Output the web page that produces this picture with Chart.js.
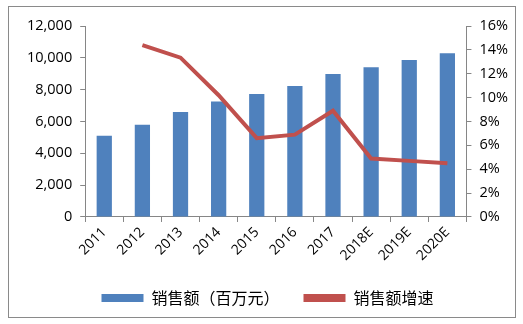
<!DOCTYPE html>
<html>
<head>
<meta charset="utf-8">
<script src="https://cdn.jsdelivr.net/npm/chart.js@4/dist/chart.umd.min.js"></script>
<style>
  body { margin: 0; background: #fff; }
  #box { position: absolute; left: 8px; top: 6px; width: 506px; height: 310px; border: 1px solid #8a8a8a; }
</style>
</head>
<body>
<div id="box"><canvas id="grafico" width="506" height="310"></canvas></div>
<script>
const anos = ["2011", "2012", "2013", "2014", "2015", "2016", "2017", "2018E", "2019E", "2020E"];
const vendas = [5100, 5800, 6600, 7250, 7720, 8230, 8990, 9410, 9860, 10290];
const crescimento = [null, 14.4, 13.35, 10.2, 6.6, 6.9, 8.9, 4.9, 4.7, 4.5];
const ticksVendas = [0, 2000, 4000, 6000, 8000, 10000, 12000];

const fonteTicks = { family: "'Open Sans', 'Liberation Sans', sans-serif", size: 14.5 };

const config = {
  type: "bar",
  data: {
    labels: anos,
    datasets: [
      {
        label: "销售额（百万元）",
        data: vendas,
        backgroundColor: "#4F81BD",
        barPercentage: 0.4,
        categoryPercentage: 1,
        yAxisID: "y",
        order: 2,
      },
      {
        label: "销售额增速",
        data: crescimento,
        type: "line",
        borderColor: "#C0504D",
        backgroundColor: "#C0504D",
        borderWidth: 4,
        pointRadius: 0,
        tension: 0,
        yAxisID: "y2",
        order: 1,
      },
    ],
  },
  options: {
    responsive: false,
    animation: false,
    layout: { padding: { left: 10, right: -1, top: 19, bottom: 1 } },
    plugins: {
      tooltip: { enabled: false },
      legend: {
        position: "bottom",
        labels: {
          color: "#000",
          font: { family: "'Noto Sans CJK SC', sans-serif", size: 16 },
          boxWidth: 42,
          boxHeight: 8,
          padding: 24,
          generateLabels: function (chart) {
            return chart.data.datasets.map((ds, i) => ({
              text: ds.label,
              fillStyle: ds.backgroundColor,
              strokeStyle: ds.backgroundColor,
              lineWidth: 0,
              datasetIndex: i,
              hidden: false,
            }));
          },
        },
      },
    },
    scales: {
      x: {
        grid: { drawOnChartArea: false, drawTicks: true, tickLength: 5, color: "#868686", offset: true },
        border: { display: true, color: "#868686" },
        ticks: { color: "#000", font: { family: fonteTicks.family, size: 14 }, maxRotation: 45, minRotation: 45, padding: 2 },
      },
      y: {
        position: "left",
        min: 0,
        max: 12000,
        afterBuildTicks: function (axis) {
          axis.ticks = ticksVendas.map((v) => ({ value: v }));
        },
        grid: { drawOnChartArea: false, drawTicks: true, tickLength: 5, color: "#868686" },
        border: { display: true, color: "#868686" },
        ticks: {
          color: "#000",
          font: fonteTicks,
          padding: 8,
          callback: function (value) {
            return value.toLocaleString("en-US");
          },
        },
      },
      y2: {
        position: "right",
        min: 0,
        max: 16,
        grid: { drawOnChartArea: false, drawTicks: true, tickLength: 5, color: "#868686" },
        border: { display: true, color: "#868686" },
        ticks: {
          stepSize: 2,
          color: "#000",
          font: fonteTicks,
          padding: 8,
          callback: function (value) {
            return value + "%";
          },
        },
      },
    },
  },
};

new Chart(document.getElementById("grafico"), config);
</script>
</body>
</html>
